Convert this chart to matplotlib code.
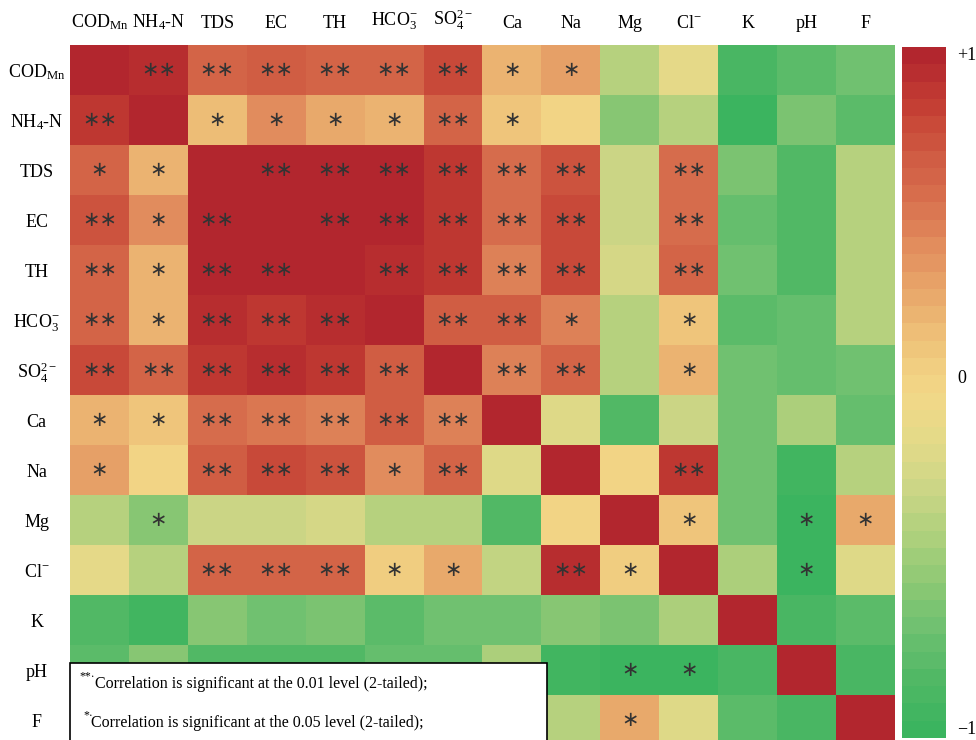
import numpy as np
import matplotlib
matplotlib.use("Agg")
import matplotlib.pyplot as plt
from matplotlib.colors import LinearSegmentedColormap, ListedColormap
from matplotlib.patches import Rectangle
from matplotlib.transforms import offset_copy

plt.rcParams['font.family'] = ['Liberation Serif', 'DejaVu Serif']
plt.rcParams['mathtext.fontset'] = 'custom'
plt.rcParams['mathtext.rm'] = 'Liberation Serif'
plt.rcParams['mathtext.it'] = 'Liberation Serif:italic'

params = [r'COD$_{\mathrm{Mn}}$', r'NH$_{4}$-N', 'TDS', 'EC', 'TH',
          r'HCO$_{3}^{\mathrm{-}}$', r'SO$_{4}^{\mathrm{2-}}$', 'Ca', 'Na', 'Mg',
          r'Cl$^{\mathrm{-}}$', 'K', 'pH', 'F']

# correlation coefficients (rows x columns)
corr = np.array([
    [1.00, 0.92, 0.60, 0.68, 0.60, 0.60, 0.75, 0.24, 0.32, -0.36, -0.14, -0.86, -0.78, -0.68],
    [0.88, 1.00, 0.16, 0.42, 0.28, 0.22, 0.60, 0.12, 0.02, -0.60, -0.36, -1.00, -0.64, -0.78],
    [0.60, 0.20, 1.00, 0.97, 0.97, 0.96, 0.85, 0.58, 0.72, -0.30, 0.58, -0.64, -0.82, -0.36],
    [0.72, 0.40, 0.97, 1.00, 0.95, 0.95, 0.88, 0.56, 0.78, -0.30, 0.58, -0.72, -0.82, -0.36],
    [0.60, 0.24, 0.96, 0.95, 1.00, 0.93, 0.88, 0.48, 0.75, -0.22, 0.60, -0.68, -0.82, -0.36],
    [0.60, 0.24, 0.90, 0.88, 0.90, 1.00, 0.65, 0.68, 0.45, -0.36, 0.10, -0.78, -0.72, -0.36],
    [0.75, 0.60, 0.86, 0.90, 0.88, 0.66, 1.00, 0.45, 0.60, -0.36, 0.24, -0.70, -0.72, -0.68],
    [0.22, 0.12, 0.55, 0.52, 0.45, 0.68, 0.45, 1.00, -0.18, -0.82, -0.30, -0.70, -0.45, -0.75],
    [0.32, 0.00, 0.65, 0.75, 0.72, 0.40, 0.60, -0.18, 1.00, 0.00, 0.88, -0.68, -0.95, -0.36],
    [-0.36, -0.60, -0.28, -0.28, -0.22, -0.36, -0.36, -0.82, 0.00, 1.00, 0.10, -0.70, -0.98, 0.28],
    [-0.12, -0.36, 0.60, 0.60, 0.62, 0.08, 0.25, -0.32, 0.90, 0.08, 1.00, -0.45, -0.98, -0.20],
    [-0.82, -0.95, -0.60, -0.70, -0.64, -0.78, -0.70, -0.66, -0.60, -0.64, -0.45, 1.00, -0.86, -0.76],
    [-0.78, -0.60, -0.80, -0.82, -0.82, -0.72, -0.72, -0.42, -0.95, -1.00, -1.00, -0.86, 1.00, -0.86],
    [-0.68, -0.78, -0.36, -0.36, -0.36, -0.36, -0.68, -0.75, -0.36, 0.28, -0.20, -0.76, -0.86, 1.00],
])

# significance flags: '**' p<0.01, '*' p<0.05
sig = [
    ['', '**', '**', '**', '**', '**', '**', '*', '*', '', '', '', '', ''],
    ['**', '', '*', '*', '*', '*', '**', '*', '', '', '', '', '', ''],
    ['*', '*', '', '**', '**', '**', '**', '**', '**', '', '**', '', '', ''],
    ['**', '*', '**', '', '**', '**', '**', '**', '**', '', '**', '', '', ''],
    ['**', '*', '**', '**', '', '**', '**', '**', '**', '', '**', '', '', ''],
    ['**', '*', '**', '**', '**', '', '**', '**', '*', '', '*', '', '', ''],
    ['**', '**', '**', '**', '**', '**', '', '**', '**', '', '*', '', '', ''],
    ['*', '*', '**', '**', '**', '**', '**', '', '', '', '', '', '', ''],
    ['*', '', '**', '**', '**', '*', '**', '', '', '', '**', '', '', ''],
    ['', '*', '', '', '', '', '', '', '', '', '*', '', '*', '*'],
    ['', '', '**', '**', '**', '*', '*', '', '**', '*', '', '', '*', ''],
    ['', '', '', '', '', '', '', '', '', '', '', '', '', ''],
    ['', '', '', '', '', '', '', '', '', '*', '*', '', '', ''],
    ['', '', '', '', '', '', '', '', '', '*', '', '', '', ''],
]

note_lines = ['Correlation is significant at the 0.01 level (2-tailed);',
              'Correlation is significant at the 0.05 level (2-tailed);']

stops = ['#3BB45F', '#50B865', '#6CC070', '#8CC874', '#AED07C', '#CCD686', '#E4DA88',
         '#F3D888',
         '#EFC47A', '#E9AA6C', '#E28E5E', '#D8704E', '#CF5A42', '#C43E33', '#B2262E']
smooth = LinearSegmentedColormap.from_list('grn_ylw_red', stops)
cmap = ListedColormap(smooth(np.linspace(0, 1, 40)))

W, H = 976, 740
fig = plt.figure(figsize=(W / 100, H / 100), dpi=100)

def px(x0, y0, x1, y1):
    return [x0 / W, 1 - y1 / H, (x1 - x0) / W, (y1 - y0) / H]

ax = fig.add_axes(px(70, 45, 895, 745))
n = len(params)
im = ax.imshow(corr, cmap=cmap, vmin=-1, vmax=1, aspect='auto',
               interpolation='nearest')

for i in range(n):
    for j in range(n):
        if sig[i][j]:
            ax.text(j, i, '\u2217' * len(sig[i][j]), ha='center', va='center',
                    fontsize=15, color='#333333', family='DejaVu Sans')

ax.set_xticks(range(n))
ax.set_yticks(range(n))
ax.set_xticklabels(params, fontsize=13)
ax.set_yticklabels(params, fontsize=13)
ax.tick_params(top=True, labeltop=True, bottom=False, labelbottom=False,
               left=False, length=0)
ax.tick_params(axis='x', pad=9)
ax.tick_params(axis='y', pad=24)
for lab in ax.get_yticklabels():
    lab.set_ha('center')
for s in ax.spines.values():
    s.set_visible(False)

# note box over the lower-left cells
box = Rectangle((70 / W, 1 - 745 / H), 477 / W, 82 / H, transform=fig.transFigure,
                facecolor='white', edgecolor='black', lw=1.2, zorder=5)
fig.patches.append(box)
fig.text(79 / W, 1 - 677 / H, '**\u00b7', fontsize=8.5, ha='left', va='center', zorder=6)
fig.text(95 / W, 1 - 684 / H, note_lines[0], fontsize=11.5, ha='left', va='center', zorder=6)
fig.text(83 / W, 1 - 716 / H, '*\u00b7', fontsize=8.5, ha='left', va='center', zorder=6)
fig.text(91 / W, 1 - 723 / H, note_lines[1], fontsize=11.5, ha='left', va='center', zorder=6)

cax = fig.add_axes(px(902, 47, 946, 738))
cb = fig.colorbar(im, cax=cax)
cb.outline.set_visible(False)
cb.set_ticks([-1, 0, 1])
cb.set_ticklabels(['\u22121', '0', '+1'])
cax.tick_params(length=0, labelsize=13, pad=8)
labs = cax.get_yticklabels()
labs[0].set_va('bottom')
labs[2].set_va('top')
labs[1].set_transform(offset_copy(labs[1].get_transform(), fig=fig, y=16, units='dots'))

fig.savefig('out.png', dpi=100)
